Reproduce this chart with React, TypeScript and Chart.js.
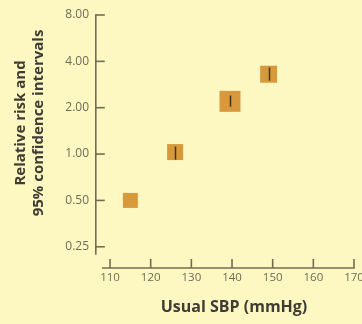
import React, { useEffect, useRef } from "react";
import { Chart, registerables } from "chart.js";

Chart.register(...registerables);

// ---- data ----
const sbp = [115, 126, 139.5, 149];
const relativeRisk = [0.5, 1.03, 2.2, 3.3];
const ciLower = [null, 0.92, 2.03, 3.0];
const ciUpper = [null, 1.12, 2.4, 3.65];
const markerSide = [15, 16, 21, 17];
const xTicks = [110, 120, 130, 140, 150, 160, 170];
const yTicks = [0.25, 0.5, 1, 2, 4, 8];
const xTitle = "Usual SBP (mmHg)";
const yTitle = ["Relative risk and", "95% confidence intervals"];

const BG = "#FDF8C2";
const AXIS = "#736c55";
const TICKTXT = "#6f6b58";
const TITLE = "#3e3c34";
const FILL = "#D8983C";
const CI = "#4a3310";

const decor = {
  id: "decor",
  beforeDraw(chart: any) {
    const { ctx, width, height } = chart;
    ctx.save();
    ctx.fillStyle = BG;
    ctx.fillRect(0, 0, width, height);
    ctx.restore();
  },
  afterDatasetsDraw(chart: any) {
    const { ctx, scales } = chart;
    const x = scales.x, y = scales.y;
    ctx.save();
    ctx.strokeStyle = CI;
    ctx.lineWidth = 1.5;
    sbp.forEach((v, i) => {
      const lo = ciLower[i], hi = ciUpper[i];
      if (lo == null || hi == null) return;
      const px = Math.round(x.getPixelForValue(v)) + 0.5;
      ctx.beginPath();
      ctx.moveTo(px, y.getPixelForValue(lo));
      ctx.lineTo(px, y.getPixelForValue(hi));
      ctx.stroke();
    });
    ctx.restore();
  },
  afterDraw(chart: any) {
    const { ctx, scales, chartArea } = chart;
    const x = scales.x, y = scales.y;
    ctx.save();
    ctx.strokeStyle = AXIS;
    ctx.lineWidth = 1.6;
    const ax = chartArea.left + 0.8;
    const ay = chartArea.bottom;
    ctx.beginPath();
    ctx.moveTo(ax, y.getPixelForValue(8) - 0.8);
    ctx.lineTo(ax, y.getPixelForValue(0.222));
    ctx.stroke();
    yTicks.forEach((t) => {
      const py = y.getPixelForValue(t);
      ctx.beginPath();
      ctx.moveTo(ax, py);
      ctx.lineTo(ax + 9, py);
      ctx.stroke();
    });
    ctx.beginPath();
    ctx.moveTo(x.getPixelForValue(108), ay);
    ctx.lineTo(x.getPixelForValue(170) + 0.8, ay);
    ctx.stroke();
    xTicks.forEach((t) => {
      const px = x.getPixelForValue(t);
      ctx.beginPath();
      ctx.moveTo(px, ay);
      ctx.lineTo(px, ay - 9);
      ctx.stroke();
    });
    ctx.fillStyle = TITLE;
    ctx.font = "bold 16px 'Open Sans'";
    ctx.textAlign = "center";
    ctx.textBaseline = "middle";
    ctx.fillText(xTitle, 234, 307);
    ctx.font = "bold 15px 'Open Sans'";
    ctx.translate(0, 123);
    ctx.rotate(-Math.PI / 2);
    ctx.fillText(yTitle[0], 0, 21);
    ctx.fillText(yTitle[1], 0, 39);
    ctx.restore();
  },
};

export default function App() {
  const ref = useRef<HTMLCanvasElement>(null);
  useEffect(() => {
    document.body.style.margin = "0";
    const chart = new Chart(ref.current as HTMLCanvasElement, {
      type: "scatter",
      data: {
        datasets: [
          {
            data: sbp.map((v, i) => ({ x: v, y: relativeRisk[i] })),
            pointStyle: "rect",
            pointRadius: markerSide.map((s) => s / Math.SQRT2),
            pointHoverRadius: markerSide.map((s) => s / Math.SQRT2),
            backgroundColor: FILL,
            borderColor: FILL,
            borderWidth: 0,
          },
        ],
      },
      options: {
        animation: false,
        responsive: false,
        devicePixelRatio: 1,
        layout: { autoPadding: false, padding: { top: 15, right: 8, left: 0, bottom: 0 } },
        plugins: { legend: { display: false }, tooltip: { enabled: false } },
        scales: {
          x: {
            type: "linear",
            min: 106.3,
            max: 170,
            afterBuildTicks: (s: any) => {
              s.ticks = xTicks.map((v) => ({ value: v }));
            },
            afterFit: (s: any) => {
              s.height = 56;
              s.paddingLeft = 0;
              s.paddingRight = 0;
            },
            grid: { display: false, drawTicks: false },
            border: { display: false },
            ticks: {
              padding: 3,
              color: TICKTXT,
              font: { family: "'Open Sans'", size: 11.5 },
              maxRotation: 0,
              autoSkip: false,
            },
          },
          y: {
            type: "logarithmic",
            min: 0.182,
            max: 8,
            afterBuildTicks: (s: any) => {
              s.ticks = yTicks.map((v) => ({ value: v }));
            },
            afterFit: (s: any) => {
              s.width = 95;
              s.paddingTop = 0;
              s.paddingBottom = 0;
            },
            grid: { display: false, drawTicks: false },
            border: { display: false },
            ticks: {
              padding: 6,
              color: TICKTXT,
              font: { family: "'Open Sans'", size: 12 },
              autoSkip: false,
              callback: (v: any) => Number(v).toFixed(2),
            },
          },
        },
      },
      plugins: [decor],
    });
    return () => chart.destroy();
  }, []);
  return (
    <div style={{ width: 362, height: 324, background: BG }}>
      <canvas ref={ref} width={362} height={324} style={{ display: "block" }} />
    </div>
  );
}
